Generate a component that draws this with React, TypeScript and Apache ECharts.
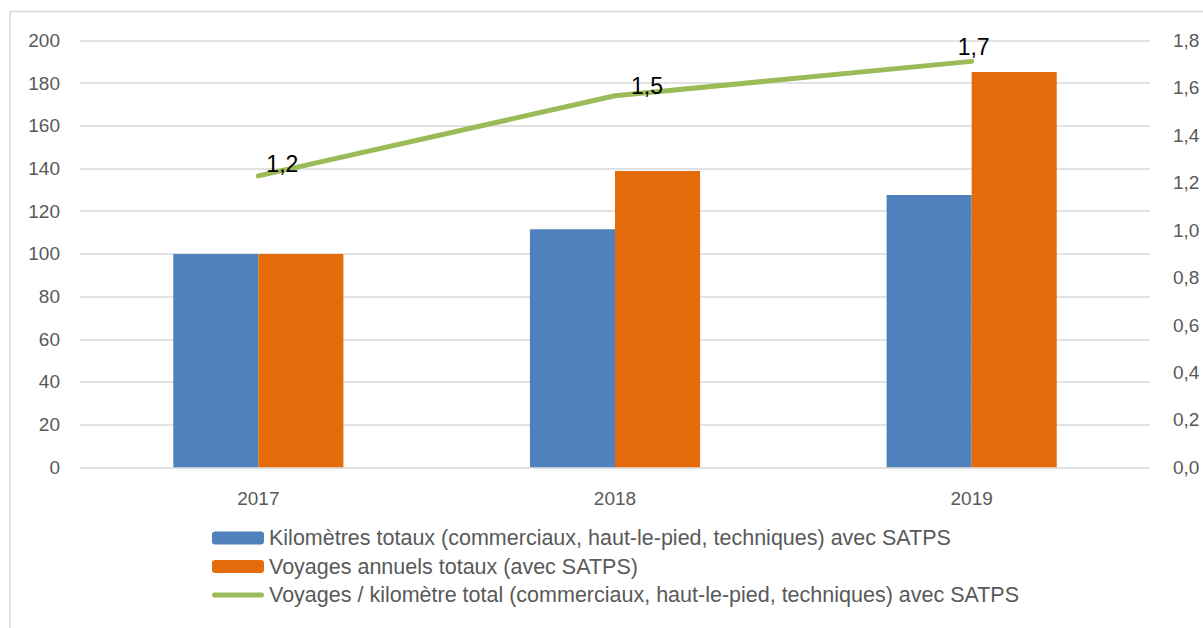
import React, { useEffect, useRef } from "react";
import * as echarts from "echarts";

const categories = ["2017", "2018", "2019"];
const kmValues = [100, 111.6, 127.6];
const tripValues = [100, 138.8, 185.2];
const ratioValues = [1.229, 1.567, 1.712];
const ratioLabels = ["1,2", "1,5", "1,7"];
const seriesNames = [
  "Kilomètres totaux (commerciaux, haut-le-pied, techniques) avec SATPS",
  "Voyages annuels totaux (avec SATPS)",
  "Voyages / kilomètre total (commerciaux, haut-le-pied, techniques) avec SATPS",
];

const labelOffsets = [
  [24, -12],
  [32, -10],
  [2, -14],
];

const lineIcon =
  "path://M0,0M52,13M2.5,4L49.5,4A2.5,2.5,0,0,1,49.5,9L2.5,9A2.5,2.5,0,0,1,2.5,4Z";

export default function App() {
  const ref = useRef<HTMLDivElement>(null);
  useEffect(() => {
    document.body.style.margin = "0";
    const chart = echarts.init(ref.current!, undefined, { renderer: "svg" });
    const font = "Liberation Sans";
    const axisColor = "#595959";
    chart.setOption({
      animation: false,
      backgroundColor: "#fff",
      textStyle: { fontFamily: font },
      grid: { left: 80, right: 53, top: 40.5, bottom: 160.7, containLabel: false },
      graphic: [
        {
          type: "rect",
          shape: { x: 10, y: 11.5, width: 1400, height: 800 },
          style: { fill: "none", stroke: "#d9d9d9", lineWidth: 1.5 },
          silent: true,
        },
      ],
      legend: {
        orient: "vertical",
        left: 207,
        top: 522,
        itemWidth: 52,
        itemHeight: 13,
        itemGap: 6.5,
        textStyle: { fontFamily: font, fontSize: 21.5, lineHeight: 21, color: axisColor },
        data: [
          { name: seriesNames[0] },
          { name: seriesNames[1] },
          { name: seriesNames[2], icon: lineIcon, itemStyle: { color: "#9bbb59", borderWidth: 0 } },
        ],
      },
      xAxis: {
        type: "category",
        data: categories,
        axisLine: { show: false },
        axisTick: { show: false },
        axisLabel: { color: axisColor, fontSize: 19, margin: 22, fontFamily: font },
      },
      yAxis: [
        {
          type: "value",
          min: 0,
          max: 200,
          interval: 20,
          axisLine: { show: false },
          axisTick: { show: false },
          axisLabel: { color: axisColor, fontSize: 19, margin: 20, fontFamily: font },
          splitLine: { lineStyle: { color: "#d9d9d9", width: 1.5 } },
        },
        {
          type: "value",
          min: 0,
          max: 1.8,
          interval: 0.2,
          axisLine: { show: false },
          axisTick: { show: false },
          splitLine: { show: false },
          axisLabel: {
            color: axisColor,
            fontSize: 19,
            margin: 23,
            fontFamily: font,
            formatter: (v: number) => v.toFixed(1).replace(".", ","),
          },
        },
      ],
      series: [
        {
          name: seriesNames[0],
          type: "bar",
          data: kmValues,
          barGap: "0%",
          barCategoryGap: "52.3%",
          itemStyle: { color: "#4f81bd" },
        },
        {
          name: seriesNames[1],
          type: "bar",
          data: tripValues,
          barGap: "0%",
          barCategoryGap: "52.3%",
          itemStyle: { color: "#e46c0a" },
        },
        {
          name: seriesNames[2],
          type: "line",
          yAxisIndex: 1,
          symbol: "circle",
          symbolSize: 1,
          showSymbol: true,
          data: ratioValues.map((v, i) => ({
            value: v,
            label: {
              show: true,
              position: "inside",
              offset: labelOffsets[i],
              formatter: () => ratioLabels[i],
            },
          })),
          label: { show: true, color: "#000", fontSize: 23, fontFamily: font },
          lineStyle: { color: "#9bbb59", width: 5, cap: "round" },
          itemStyle: { color: "#9bbb59" },
        },
      ],
    });
    return () => chart.dispose();
  }, []);
  return <div ref={ref} style={{ width: 1203, height: 628 }} />;
}
